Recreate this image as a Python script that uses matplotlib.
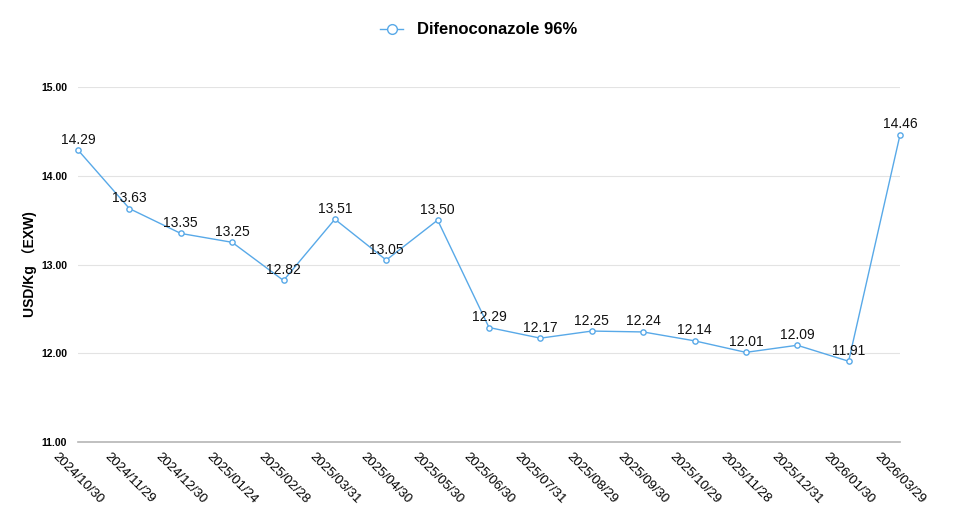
import matplotlib
matplotlib.use("Agg")
import matplotlib.pyplot as plt
from matplotlib.lines import Line2D

dates = ["2024/10/30", "2024/11/29", "2024/12/30", "2025/01/24", "2025/02/28", "2025/03/31",
         "2025/04/30", "2025/05/30", "2025/06/30", "2025/07/31", "2025/08/29", "2025/09/30",
         "2025/10/29", "2025/11/28", "2025/12/31", "2026/01/30", "2026/03/29"]
prices = [14.29, 13.63, 13.35, 13.25, 12.82, 13.51, 13.05, 13.50, 12.29, 12.17, 12.25, 12.24,
          12.14, 12.01, 12.09, 11.91, 14.46]
series_name = "Difenoconazole 96%"
y_ticks = [11.0, 12.0, 13.0, 14.0, 15.0]

plt.rcParams['font.family'] = ['Liberation Sans', 'Noto Sans CJK SC', 'DejaVu Sans']

fig = plt.figure(figsize=(9.57, 5.30), dpi=100)
ax = fig.add_axes([78/957, 1-442/530, (900-78)/957, (442-87)/530])

color = "#58a9e8"
x = list(range(len(dates)))
line, = ax.plot(x, prices, color=color, lw=1.0, marker='o', ms=3.8, mfc='white',
                mec=color, mew=1.0, label=series_name, zorder=3, clip_on=False)

for xi, v in zip(x, prices):
    ax.annotate(f"{v:.2f}", (xi, v), xytext=(0, 2.5), textcoords='offset points',
                ha='center', va='bottom', fontsize=10, color='#111111', zorder=4)

ax.set_xlim(0, len(dates) - 1)
ax.set_ylim(11, 15)
ax.set_yticks(y_ticks)
ax.set_yticklabels([f"{t:.2f}" for t in y_ticks], fontsize=7.5, fontweight='bold')
ax.set_xticks(x)
ax.set_xticklabels(dates, rotation=-45, ha='center', va='top', fontsize=9.5,
                   rotation_mode='default')
ax.tick_params(axis='both', length=0)
ax.tick_params(axis='y', pad=8)
ax.tick_params(axis='x', pad=6)

ax.grid(axis='y', color='#e3e3e3', lw=0.8)
ax.set_axisbelow(True)
for s in ['top', 'right', 'left']:
    ax.spines[s].set_visible(False)
ax.spines['bottom'].set_color('#b5b5b5')
ax.spines['bottom'].set_linewidth(1.2)

ax.set_ylabel("USD/Kg （EXW)", fontsize=10, fontweight='bold', labelpad=3)

handle = Line2D([], [], color=color, lw=1.0, marker='o', ms=7, mfc='white', mec=color, mew=1.0)
leg = fig.legend(handles=[handle], labels=[series_name], loc='center', bbox_to_anchor=(0.5, 1-30/530),
                 frameon=False, prop={'size': 12, 'weight': 'bold'}, handlelength=1.4,
                 handletextpad=0.8)

fig.savefig("out.png", dpi=100)
